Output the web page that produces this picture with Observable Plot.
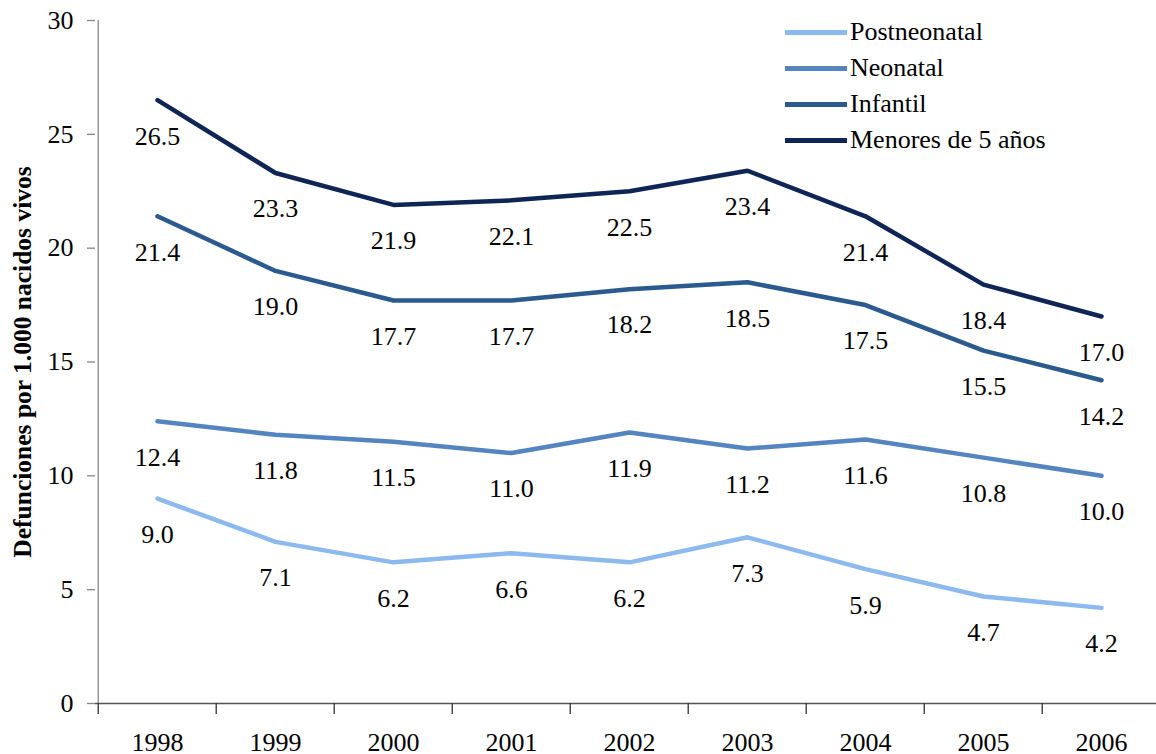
<!DOCTYPE html>
<html>
<head>
<meta charset="utf-8">
<script src="https://cdn.jsdelivr.net/npm/d3@7"></script>
<script src="https://cdn.jsdelivr.net/npm/@observablehq/plot@0.6"></script>
<style>
  html, body { margin: 0; padding: 0; background: #fff; }
  #wrap { position: relative; width: 1156px; height: 754px; overflow: hidden; font-family: "Liberation Serif", "DejaVu Serif"; }
  #wrap svg, #wrap svg text { font-family: "Liberation Serif", "DejaVu Serif" !important; }
  #legend { position: absolute; left: 785px; top: 14px; font-family: "Liberation Serif", "DejaVu Serif"; }
  .item { display: flex; align-items: center; height: 36px; font-size: 26px; color: #000; }
  .sw { width: 62px; height: 5px; margin-right: 3px; }
</style>
</head>
<body>
<div id="wrap"></div>
<script>
const years = ["1998","1999","2000","2001","2002","2003","2004","2005","2006"];
const seriesNames = ["Postneonatal","Neonatal","Infantil","Menores de 5 años"];
const postneonatal = [9.0, 7.1, 6.2, 6.6, 6.2, 7.3, 5.9, 4.7, 4.2];
const neonatal     = [12.4, 11.8, 11.5, 11.0, 11.9, 11.2, 11.6, 10.8, 10.0];
const infantil     = [21.4, 19.0, 17.7, 17.7, 18.2, 18.5, 17.5, 15.5, 14.2];
const menores5     = [26.5, 23.3, 21.9, 22.1, 22.5, 23.4, 21.4, 18.4, 17.0];
const yTicks = [0, 5, 10, 15, 20, 25, 30];
const colors = ["#8cb9ee", "#5585c0", "#2b5a8f", "#0f2556"];
const yTitle = "Defunciones por 1.000 nacidos vivos";

const seriesValues = [postneonatal, neonatal, infantil, menores5];
const rows = seriesNames.flatMap((s, i) => years.map((yr, j) => ({series: s, year: yr, value: seriesValues[i][j]})));

const W = 1156, H = 754;
const x0 = 95, x1 = 1162;
const step = (x1 - x0) / years.length;
const font = '"Liberation Serif", "DejaVu Serif"';

const chart = Plot.plot({
  width: W,
  height: H,
  marginLeft: x0,
  marginRight: 0,
  marginTop: 20,
  marginBottom: 51,
  style: {fontFamily: font, fontSize: "26px", color: "#000", background: "#fff", overflow: "visible"},
  x: {type: "point", domain: years, range: [x0, x1], padding: 0.5, axis: null, label: null},
  y: {domain: [0, 30], axis: null, label: null},
  color: {domain: seriesNames, range: colors},
  marks: [
    Plot.ruleX([years[0]], {x: d => d, y1: 0, y2: 30, dx: -step / 2, stroke: "#868686", strokeWidth: 1.3}),
    Plot.axisY({ticks: yTicks, tickSize: 8, tickPadding: 14, stroke: "#868686", strokeWidth: 1.3, fontSize: 26, fill: "#000", label: null, tickFormat: d => String(d)}),
    Plot.ruleY([0], {stroke: "#555", strokeWidth: 1.3}),
    Plot.axisX({ticks: years, tickSize: 11, tickFormat: () => "", label: null, dx: -step / 2, stroke: "#333", strokeWidth: 1.3}),
    Plot.axisX({ticks: years, tickSize: 0, tickPadding: 29, fontSize: 26, fill: "#000", label: null}),
    Plot.line(rows, {x: "year", y: "value", z: "series", stroke: "series", strokeWidth: 4.5, strokeLinejoin: "round"}),
    Plot.text(rows, {x: "year", y: "value", text: d => d.value.toFixed(1), dy: 36, fontSize: 26, fill: "#000"}),
    Plot.text([yTitle], {frameAnchor: "left", textAnchor: "middle", dx: -73, rotate: -90, fontWeight: "bold", fontSize: 25.5, fill: "#000"})
  ]
});

const wrap = document.getElementById("wrap");
wrap.appendChild(chart);

const legend = document.createElement("div");
legend.id = "legend";
seriesNames.forEach((s, i) => {
  const it = document.createElement("div");
  it.className = "item";
  const sw = document.createElement("span");
  sw.className = "sw";
  sw.style.background = colors[i];
  const lab = document.createElement("span");
  lab.textContent = s;
  it.appendChild(sw);
  it.appendChild(lab);
  legend.appendChild(it);
});
wrap.appendChild(legend);
</script>
</body>
</html>
